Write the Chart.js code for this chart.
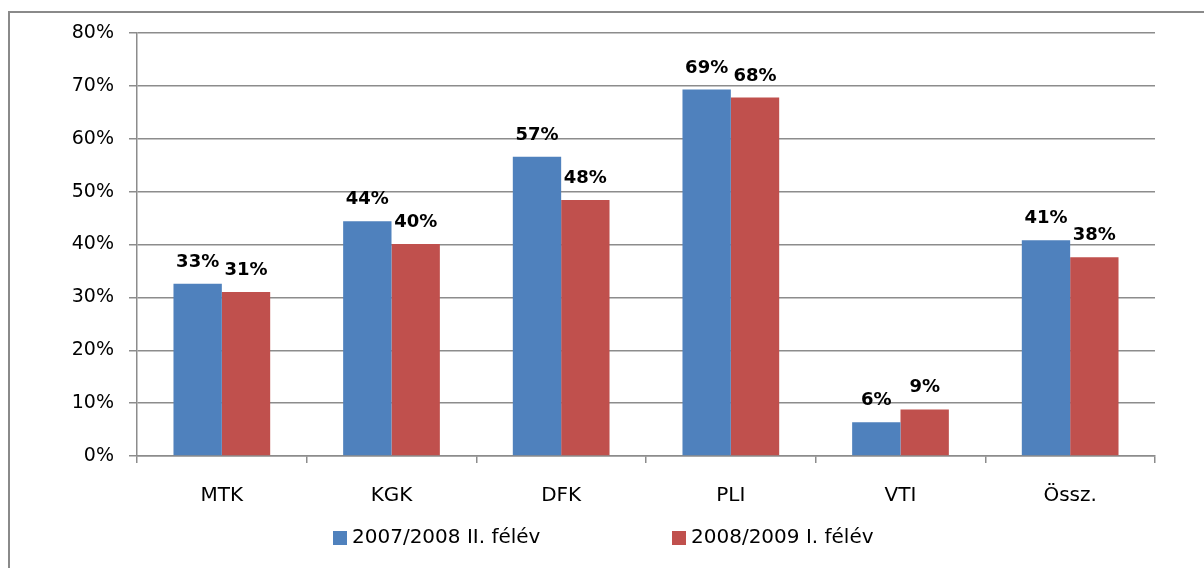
<!DOCTYPE html>
<html>
<head>
<meta charset="utf-8">
<script src="https://cdn.jsdelivr.net/npm/chart.js@4/dist/chart.umd.min.js"></script>
<style>
html,body{margin:0;padding:0;background:#fff;overflow:hidden;}
#wrap{position:relative;width:1204px;height:572px;}
#frame{position:absolute;left:8px;top:11px;width:1400px;height:555px;border-left:2px solid #8a8a8a;border-top:2px solid #8a8a8a;pointer-events:none;}
canvas{position:absolute;left:0;top:0;}
</style>
</head>
<body>
<div id="wrap">
<canvas id="c" width="1204" height="572"></canvas>
<div id="frame"></div>
</div>
<script>
const categories = ['MTK', 'KGK', 'DFK', 'PLI', 'VTI', 'Össz.'];
const seriesNames = ['2007/2008 II. félév', '2008/2009 I. félév'];
const values2007 = [32.6, 44.4, 56.6, 69.3, 6.4, 40.8];
const values2008 = [31.0, 40.1, 48.4, 67.8, 8.8, 37.6];
const yTicks = [0, 10, 20, 30, 40, 50, 60, 70, 80];

const FONT = '"DejaVu Sans", sans-serif';

const labelPlugin = {
  id: 'barLabels',
  afterDatasetsDraw(chart) {
    const ctx = chart.ctx;
    ctx.save();
    ctx.font = 'bold 18px ' + FONT;
    ctx.fillStyle = '#000';
    ctx.textAlign = 'center';
    ctx.textBaseline = 'alphabetic';
    chart.data.datasets.forEach((ds, i) => {
      chart.getDatasetMeta(i).data.forEach((bar, j) => {
        ctx.fillText(Math.round(ds.data[j]) + '%', bar.x, bar.y - 17);
      });
    });
    ctx.restore();
  }
};

// legend drawn from the datasets (names and colours)
const legendPlugin = {
  id: 'customLegend',
  afterDraw(chart) {
    const ctx = chart.ctx;
    const starts = [333, 672];
    const cy = 538;
    ctx.save();
    ctx.font = '20px ' + FONT;
    ctx.textBaseline = 'middle';
    ctx.textAlign = 'left';
    chart.data.datasets.forEach((ds, i) => {
      const x = starts[i];
      ctx.fillStyle = ds.backgroundColor;
      ctx.fillRect(x, cy - 7, 14, 14);
      ctx.fillStyle = '#000';
      ctx.fillText(ds.label, x + 19, cy);
    });
    ctx.restore();
  }
};

new Chart(document.getElementById('c'), {
  type: 'bar',
  data: {
    labels: categories,
    datasets: [
      { label: seriesNames[0], data: values2007, backgroundColor: '#4F81BD' },
      { label: seriesNames[1], data: values2008, backgroundColor: '#C0504D' }
    ]
  },
  options: {
    responsive: false,
    animation: false,
    devicePixelRatio: 1,
    layout: { padding: { top: 33, left: 0, right: 49, bottom: 0 } },
    datasets: { bar: { categoryPercentage: 0.57, barPercentage: 1.0 } },
    plugins: {
      tooltip: { enabled: false },
      legend: { display: false }
    },
    scales: {
      y: {
        min: 0, max: 80,
        afterFit: s => { s.width = 137; },
        afterBuildTicks: s => { s.ticks = yTicks.map(v => ({ value: v })); },
        ticks: {
          callback: v => v + '%',
          font: { family: FONT, size: 19 },
          color: '#000',
          padding: 15
        },
        grid: { color: '#8c8c8c', lineWidth: 1.5, tickLength: 8 },
        border: { color: '#8c8c8c', width: 1.5 }
      },
      x: {
        afterFit: s => { s.height = 116; },
        ticks: {
          font: { family: FONT, size: 20 },
          color: '#000',
          padding: 21
        },
        grid: { drawOnChartArea: false, drawTicks: true, tickLength: 7, color: '#8c8c8c', lineWidth: 1.5 },
        border: { color: '#8c8c8c', width: 1.5 }
      }
    }
  },
  plugins: [labelPlugin, legendPlugin]
});
</script>
</body>
</html>
